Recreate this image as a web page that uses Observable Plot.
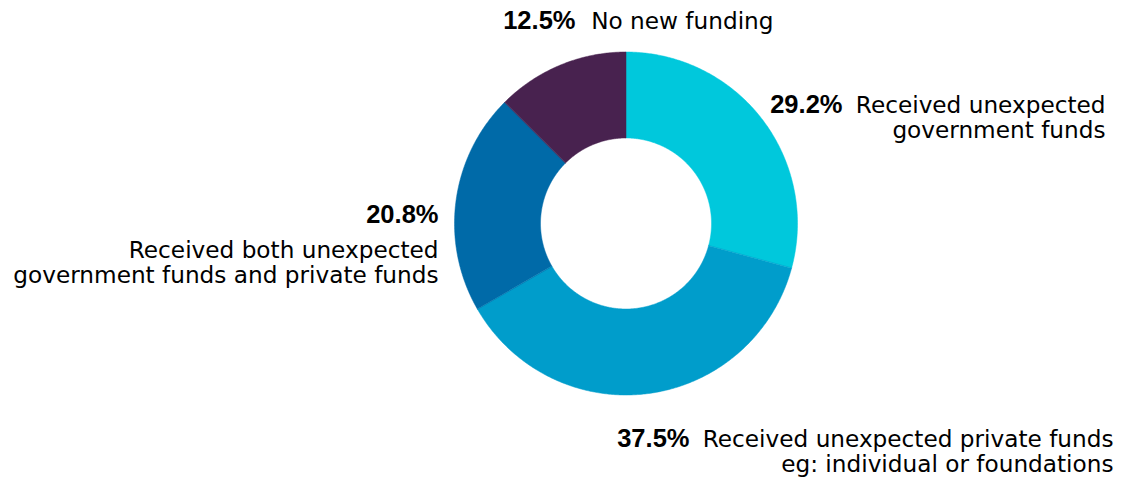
<!DOCTYPE html>
<html>
<head>
<meta charset="utf-8">
<script src="https://cdn.jsdelivr.net/npm/d3@7"></script>
<script src="https://cdn.jsdelivr.net/npm/@observablehq/plot@0.6"></script>
<style>
  html, body { margin: 0; padding: 0; background: #ffffff; }
  #chart svg { display: block; }
</style>
</head>
<body>
<div id="chart"></div>
<script>
// ---- Data ----
const categories = [
  "Received unexpected government funds",
  "Received unexpected private funds eg: individual or foundations",
  "Received both unexpected government funds and private funds",
  "No new funding"
];
const values = [29.2, 37.5, 20.8, 12.5];
const labelLines = [
  ["Received unexpected", "government funds"],
  ["Received unexpected private funds", "eg: individual or foundations"],
  ["Received both unexpected", "government funds and private funds"],
  ["No new funding"]
];
const colors = ["#00C8DC", "#009DCB", "#006AA8", "#48224F"];

// ---- Layout (positions/sizes, not data) ----
const W = 1121, H = 479;
const cx = 626, cy = 223.5, R = 171.5, r0 = 85.5;
const fontSize = 23.2, pctSize = 25.5, lineGap = 25;
const labelLayout = [
  {pctX: 842, pctY: 112, textX: 1105, textY: 112},
  {pctX: 689, pctY: 446, textX: 1113, textY: 446},
  {pctX: 438, pctY: 222, textX: 438, textY: 257},
  {pctX: 575, pctY: 28, textX: 773, textY: 28}
];

// ---- Build slice geometry from values ----
const total = d3.sum(values);
const ends = d3.cumsum(values);
const rows = [];
categories.forEach((c, i) => {
  const a0 = (ends[i] - values[i]) / total * 2 * Math.PI;
  const a1 = ends[i] / total * 2 * Math.PI;
  const n = Math.max(2, Math.ceil((a1 - a0) / (Math.PI / 360)));
  for (let k = 0; k <= n; ++k) {
    const a = a0 + (a1 - a0) * k / n;
    rows.push({
      category: c,
      x1: cx + r0 * Math.sin(a), y1: cy - r0 * Math.cos(a),
      x2: cx + R * Math.sin(a), y2: cy - R * Math.cos(a)
    });
  }
});

const pctRows = categories.map((c, i) => ({
  text: values[i].toFixed(1) + "%", x: labelLayout[i].pctX, y: labelLayout[i].pctY
}));
// one multi-line text per label; y = baseline of the last line
const textRows = categories.map((c, i) => ({
  text: labelLines[i].join("\n"),
  x: labelLayout[i].textX,
  y: labelLayout[i].textY + (labelLines[i].length - 1) * lineGap
}));

const chart = Plot.plot({
  width: W,
  height: H,
  margin: 0,
  style: {background: "#ffffff", overflow: "visible"},
  x: {domain: [0, W], range: [0, W], axis: null},
  y: {domain: [0, H], range: [0, H], axis: null},
  color: {domain: categories, range: colors},
  marks: [
    Plot.area(rows, {
      x1: "x1", y1: "y1", x2: "x2", y2: "y2",
      z: "category", fill: "category", stroke: "category", strokeWidth: 0.5
    }),
    Plot.text(pctRows, {
      x: "x", y: "y", text: "text", textAnchor: "end", lineAnchor: "bottom",
      fontSize: pctSize, fontWeight: "bold", fontFamily: "Liberation Sans, Arial, sans-serif",
      fill: "#000000"
    }),
    Plot.text(textRows, {
      x: "x", y: "y", text: "text", textAnchor: "end", lineAnchor: "bottom",
      lineHeight: lineGap / fontSize,
      fontSize: fontSize, fontFamily: "DejaVu Sans, Verdana, sans-serif",
      fill: "#000000"
    })
  ]
});
document.getElementById("chart").appendChild(chart);
</script>
</body>
</html>
